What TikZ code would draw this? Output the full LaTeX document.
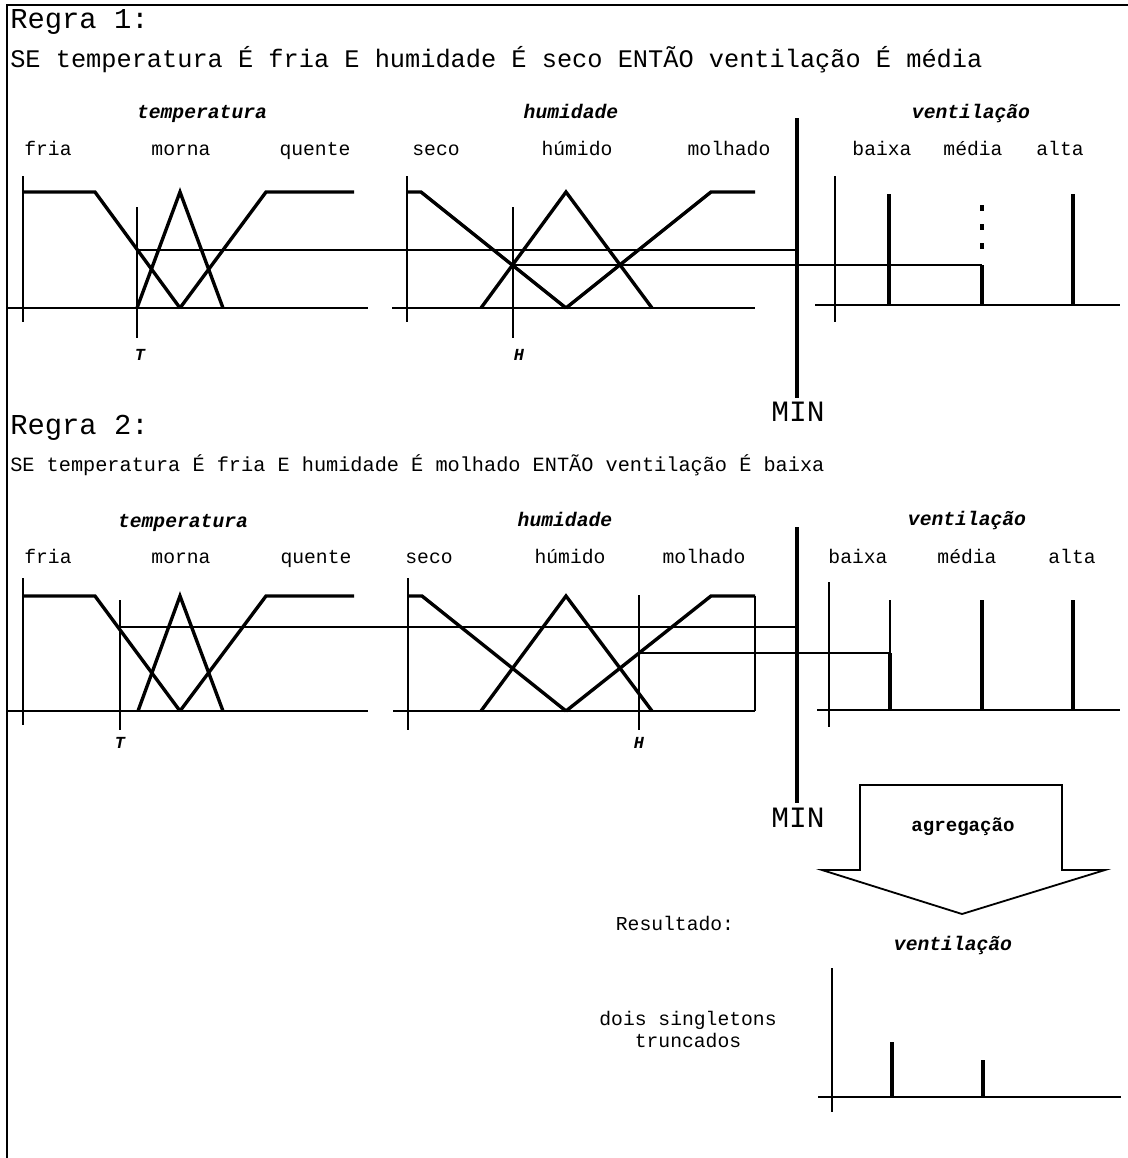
\documentclass[tikz,border=0pt]{standalone}
\usepackage{fontspec}
\setmainfont{Liberation Mono}
\usetikzlibrary{positioning}
\newcommand{\rulefont}{\fontsize{20.5pt}{24pt}\selectfont}
\newcommand{\ifthenfont}{\fontsize{18pt}{21pt}\selectfont}
\newcommand{\ifthensmall}{\fontsize{14.4pt}{17pt}\selectfont}
\newcommand{\termfont}{\fontsize{14pt}{17pt}\selectfont}
\newcommand{\varfont}{\fontsize{14pt}{17pt}\selectfont\bfseries\itshape}
\newcommand{\minfont}{\fontsize{21pt}{24pt}\selectfont}
\tikzset{
  fuzzy/.style={line width=2.4pt},
  axisline/.style={line width=1.8pt},
  cutline/.style={line width=1.1pt},
  minline/.style={line width=2.6pt},
  rulehead/.style={anchor=west, inner sep=0pt, font=\rulefont},
  varname/.style={anchor=base, inner sep=0pt, font=\varfont},
  termname/.style={anchor=base, inner sep=0pt, font=\termfont},
  inputname/.style={anchor=base, inner sep=0pt, font=\fontsize{12pt}{14pt}\selectfont\bfseries\itshape},
  minname/.style={anchor=base, inner sep=0pt, font=\minfont}
}

\begin{document}
\begin{tikzpicture}[x=0.025cm, y=-0.025cm]
  \useasboundingbox (0,0) rectangle (1128,1158);
  % frame
  \draw[line width=1.4pt] (7,1158) -- (7,5) -- (1128,5);

  % ---- Regra 1 ----
  \node[rulehead] (regra1) at (10,22) {Regra 1:};
  \node[anchor=west, inner sep=0pt, font=\ifthenfont] (se1) at (10,60)
    {SE temperatura É fria E humidade É seco ENTÃO ventilação É média};

  % temperatura
  \node[varname] (temp1) at (202,118) {temperatura};
  \node[termname] (fria1) at (48,155) {fria};
  \node[termname] (morna1) at (181,155) {morna};
  \node[termname] (quente1) at (315,155) {quente};
  \draw[axisline] (23,176) -- (23,322);
  \draw[axisline] (7,308) -- (368,308);
  \draw[fuzzy] (23,192) -- (95,192) -- (180,308);
  \draw[fuzzy] (137,308) -- (180,192) -- (223,308);
  \draw[fuzzy] (180,308) -- (266,192) -- (354,192);
  \draw[axisline] (137,207) -- (137,338);
  \node[inputname] (tin1) at (140,360) {T};

  % humidade
  \node[varname] (hum1) at (571,118) {humidade};
  \node[termname] (seco1) at (436,155) {seco};
  \node[termname] (humido1) at (577,155) {húmido};
  \node[termname] (molhado1) at (729,155) {molhado};
  \draw[axisline] (407,176) -- (407,322);
  \draw[axisline] (392,308) -- (755,308);
  \draw[fuzzy] (407,192) -- (421,192) -- (566,308);
  \draw[fuzzy] (481,308) -- (566,192) -- (652,308);
  \draw[fuzzy] (566,308) -- (711,192) -- (755,192);
  \draw[axisline] (513,207) -- (513,338);
  \node[inputname] (hin1) at (519,360) {H};

  % MIN
  \draw[minline] (797,118) -- (797,398);
  \node[minname] (min1) at (798,421) {MIN};

  % ventilacao
  \node[varname] (vent1) at (971,118) {ventilação};
  \node[termname] (baixa1) at (882,155) {baixa};
  \node[termname] (media1) at (973,155) {média};
  \node[termname] (alta1) at (1060,155) {alta};
  \draw[axisline] (835,176) -- (835,322);
  \draw[axisline] (815,305) -- (1120,305);
  \draw[fuzzy] (889,194) -- (889,305);
  \draw[fuzzy] (982,265) -- (982,305);
  \foreach \y in {208,227,246}
    \draw[fuzzy] (982,\y-3) -- (982,\y+3);
  \draw[fuzzy] (1073,194) -- (1073,305);

  % cortes
  \coordinate (tcut1) at (137,250);
  \coordinate (tmin1) at (797,250);
  \coordinate (hcut1) at (513,265);
  \coordinate (vcut1) at (982,265);
  \draw[cutline] (tcut1) -- (tmin1);
  \draw[cutline] (hcut1) -- (vcut1);

  % ---- Regra 2 ----
  \node[rulehead] (regra2) at (10,428) {Regra 2:};
  \node[anchor=west, inner sep=0pt, font=\ifthensmall] (se2) at (10,465)
    {SE temperatura É fria E humidade É molhado ENTÃO ventilação É baixa};

  % temperatura
  \node[varname] (temp2) at (183,527) {temperatura};
  \node[termname] (fria2) at (48,563) {fria};
  \node[termname] (morna2) at (181,563) {morna};
  \node[termname] (quente2) at (316,563) {quente};
  \draw[axisline] (23,578) -- (23,725);
  \draw[axisline] (7,711) -- (368,711);
  \draw[fuzzy] (23,596) -- (95,596) -- (180,711);
  \draw[fuzzy] (138,711) -- (180,596) -- (223,711);
  \draw[fuzzy] (180,711) -- (266,596) -- (354,596);
  \draw[axisline] (120,600) -- (120,730);
  \node[inputname] (tin2) at (120,748) {T};

  % humidade
  \node[varname] (hum2) at (565,526) {humidade};
  \node[termname] (seco2) at (429,563) {seco};
  \node[termname] (humido2) at (570,563) {húmido};
  \node[termname] (molhado2) at (704,563) {molhado};
  \draw[axisline] (408,578) -- (408,730);
  \draw[axisline] (393,711) -- (755,711);
  \draw[fuzzy] (408,596) -- (422,596) -- (566,711);
  \draw[fuzzy] (481,711) -- (566,596) -- (652,711);
  \draw[fuzzy] (566,711) -- (711,596) -- (755,596);
  \draw[cutline] (755,596) -- (755,711);
  \draw[axisline] (639,595) -- (639,730);
  \node[inputname] (hin2) at (639,748) {H};

  % MIN
  \draw[minline] (797,527) -- (797,803);
  \node[minname] (min2) at (798,827) {MIN};

  % ventilacao
  \node[varname] (vent2) at (967,525) {ventilação};
  \node[termname] (baixa2) at (858,563) {baixa};
  \node[termname] (media2) at (967,563) {média};
  \node[termname] (alta2) at (1072,563) {alta};
  \draw[axisline] (829,582) -- (829,727);
  \draw[axisline] (817,710) -- (1120,710);
  \draw[cutline] (890,600) -- (890,653);
  \draw[fuzzy] (890,653) -- (890,710);
  \draw[fuzzy] (982,600) -- (982,710);
  \draw[fuzzy] (1073,600) -- (1073,710);

  % cortes
  \coordinate (tcut2) at (120,627);
  \coordinate (tmin2) at (797,627);
  \coordinate (hcut2) at (639,653);
  \coordinate (vcut2) at (890,653);
  \draw[cutline] (tcut2) -- (tmin2);
  \draw[cutline] (hcut2) -- (vcut2);

  % ---- agregacao ----
  \draw[line width=1.3pt] (860,785) -- (1062,785) -- (1062,870) -- (1105,870)
    -- (962,914) -- (822,870) -- (860,870) -- cycle;
  \node[anchor=base, inner sep=0pt, font=\fontsize{13.6pt}{16pt}\selectfont\bfseries] (agreg) at (963,831) {agregação};

  % ---- resultado ----
  \node[termname] (result) at (675,930) {Resultado:};
  \node[varname] (vent3) at (953,950) {ventilação};
  \node[termname] (dois) at (688,1025) {dois singletons};
  \node[termname] (trunc) at (688,1047) {truncados};
  \draw[axisline] (832,968) -- (832,1112);
  \draw[axisline] (818,1097) -- (1121,1097);
  \draw[fuzzy] (892,1042) -- (892,1097);
  \draw[fuzzy] (983,1060) -- (983,1097);
\end{tikzpicture}
\end{document}
